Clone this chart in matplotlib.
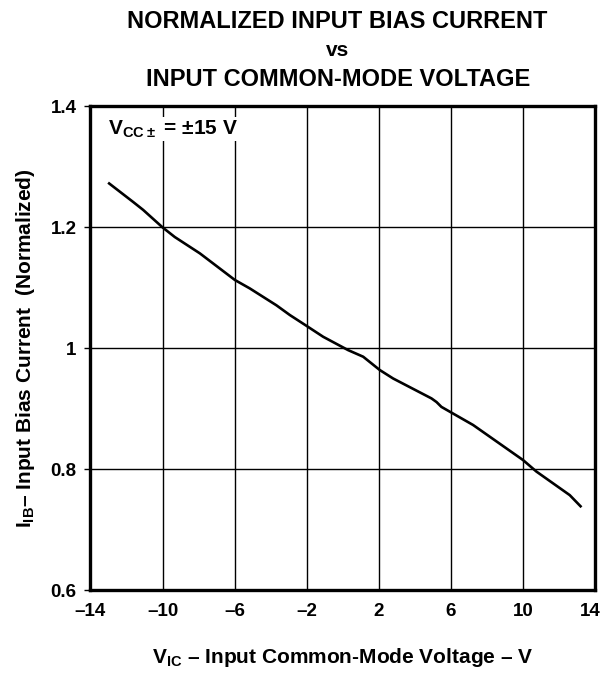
import numpy as np
import matplotlib.pyplot as plt
import matplotlib.transforms as mtransforms

# --- style ---
plt.rcParams['font.family'] = 'Liberation Sans'
plt.rcParams['font.weight'] = 'bold'
plt.rcParams['mathtext.fontset'] = 'custom'
plt.rcParams['mathtext.rm'] = 'Liberation Sans:bold'
plt.rcParams['mathtext.bf'] = 'Liberation Sans:bold'
plt.rcParams['mathtext.default'] = 'bf'

# --- data ---
v_ic = [-13.02, -11.63, -11.08, -10.0, -9.32, -7.93, -5.99, -5.16, -3.68, -2.94,
        -2.01, -1.09, 0.29, 1.13, 2.05, 2.79, 4.92, 5.20, 5.47, 7.23,
        10.0, 10.74, 12.59, 13.24]
i_ib = [1.274, 1.242, 1.229, 1.200, 1.184, 1.157, 1.113, 1.099, 1.071, 1.055,
        1.037, 1.019, 0.997, 0.986, 0.964, 0.950, 0.917, 0.911, 0.903, 0.873,
        0.815, 0.796, 0.757, 0.737]

x_ticks = [-14, -10, -6, -2, 2, 6, 10, 14]
x_labels = ['\u201314', '\u201310', '\u20136', '\u20132', '2', '6', '10', '14']
y_ticks = [0.6, 0.8, 1.0, 1.2, 1.4]
y_labels = ['0.6', '0.8', '1', '1.2', '1.4']

fig = plt.figure(figsize=(6.03, 6.74), dpi=100)
ax = fig.add_axes([0.150, 0.1246, 0.837, 0.7174])

ax.plot(v_ic, i_ib, color='black', linewidth=1.9, solid_capstyle='butt')

ax.set_xlim(-14, 14)
ax.set_ylim(0.6, 1.4)
ax.set_xticks(x_ticks)
ax.set_xticklabels(x_labels)
ax.set_yticks(y_ticks)
ax.set_yticklabels(y_labels)
ax.tick_params(axis='x', length=0, pad=9, labelsize=13.5)
ax.tick_params(axis='y', length=4, width=1, pad=6, labelsize=13.5)

# 最右边的 "14" 往左挪一点，免得出界
last = ax.get_xticklabels()[-1]
last.set_transform(last.get_transform() +
                   mtransforms.ScaledTranslation(-5 / 100, 0, fig.dpi_scale_trans))

ax.grid(True, color='black', linewidth=1.0)
for s in ax.spines.values():
    s.set_linewidth(2.4)

# 注释
ax.text(0.035, 0.975, r'V$_{CC\pm}$ = $\pm$15 V', transform=ax.transAxes,
        fontsize=15, fontweight='bold', va='top', ha='left',
        bbox=dict(facecolor='white', edgecolor='none', pad=1))

ax.set_xlabel('V$_{IC}$ \u2013 Input Common-Mode Voltage \u2013 V',
              fontsize=15, fontweight='bold', labelpad=19)
ax.set_ylabel('I$_{IB}$\u2013 Input Bias Current  (Normalized)',
              fontsize=15, fontweight='bold', labelpad=10)

# --- title ---
cx = 0.56
fig.text(cx, 1 - 21 / 674, 'NORMALIZED INPUT BIAS CURRENT', ha='center', va='center',
         fontsize=17, fontweight='bold')
fig.text(cx, 1 - 51 / 674, 'vs', ha='center', va='center',
         fontsize=15, fontweight='bold')
fig.text(cx, 1 - 80 / 674, 'INPUT COMMON-MODE VOLTAGE', ha='center', va='center',
         fontsize=17, fontweight='bold')

fig.savefig('out.png', dpi=100)
